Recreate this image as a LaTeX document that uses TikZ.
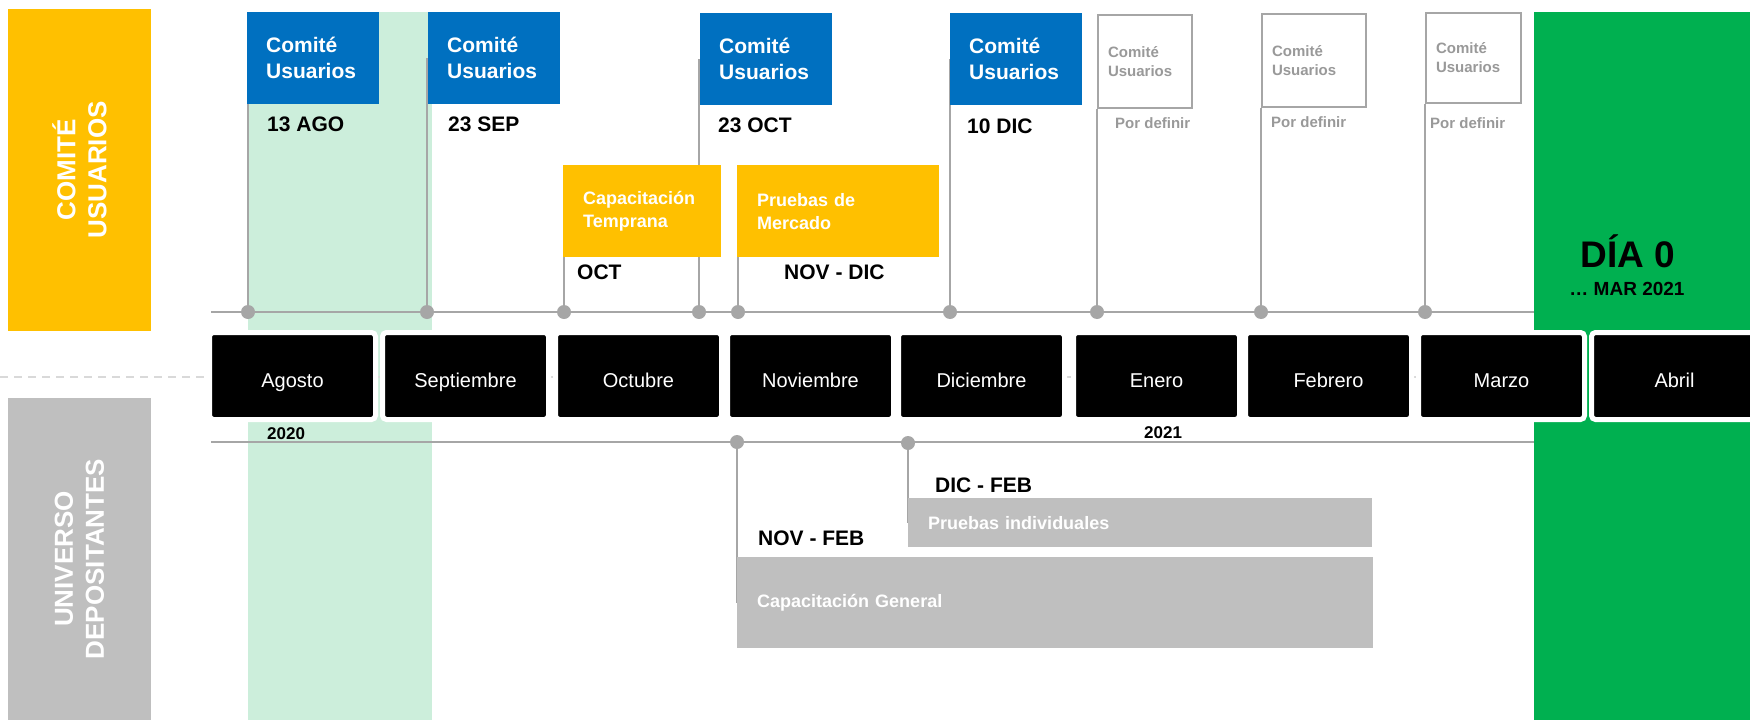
\documentclass[tikz,border=0pt]{standalone}
\usepackage{fontspec}
\setmainfont{Liberation Sans}
\usetikzlibrary{positioning}
\pgfdeclarelayer{background}
\pgfsetlayers{background,main}

\definecolor{amarillo}{HTML}{FFC000}
\definecolor{azul}{HTML}{0070C0}
\definecolor{verde}{HTML}{00B050}
\definecolor{verdeclaro}{HTML}{CCEEDB}
\definecolor{gris}{HTML}{BFBFBF}
\definecolor{grislinea}{HTML}{A6A6A6}
\definecolor{gristexto}{HTML}{999999}
\definecolor{grisguia}{HTML}{D9D9D9}

\tikzset{
  lateral/.style={rotate=90, minimum width=322pt, minimum height=143pt, inner sep=0pt,
    align=center, text=white, font=\bfseries\fontsize{26}{31}\selectfont},
  mes/.style={fill=black, draw=white, line width=5pt, rounded corners=4pt,
    minimum width=166pt, minimum height=87pt, text height=22pt, text depth=0pt,
    text=white, font=\fontsize{20}{24}\selectfont},
  comite/.style={anchor=north west, fill=azul, text=white, minimum height=92pt,
    text width=94pt, inner xsep=19pt, inner ysep=0pt, align=left,
    font=\bfseries\fontsize{21}{26}\selectfont},
  pendiente/.style={anchor=north west, draw=grislinea, line width=2pt, fill=white,
    text=gristexto, minimum height=93pt, inner xsep=10pt, inner ysep=0pt, align=left,
    font=\bfseries\fontsize{15}{19}\selectfont},
  actividad/.style={anchor=north west, fill=amarillo, text=white, minimum height=92pt,
    inner xsep=20pt, inner ysep=0pt, align=left, font=\bfseries\fontsize{18}{23}\selectfont},
  barra/.style={anchor=north west, fill=gris, text=white, inner xsep=20pt, inner ysep=0pt,
    align=left, font=\bfseries\fontsize{18}{22}\selectfont},
  fecha/.style={anchor=base west, inner sep=0pt, font=\bfseries\fontsize{21}{25}\selectfont},
  pordefinir/.style={anchor=base west, inner sep=0pt, text=gristexto,
    font=\bfseries\fontsize{15}{18}\selectfont},
  anio/.style={anchor=base west, inner sep=0pt, font=\bfseries\fontsize{17}{20}\selectfont},
  punto/.style={circle, fill=grislinea, minimum size=14pt, inner sep=0pt},
  eje/.style={draw=grislinea, line width=2pt},
  guia/.style={draw=grisguia, line width=1.5pt, dash pattern=on 8pt off 6pt}
}

\begin{document}
\begin{tikzpicture}[x=1pt,y=-1pt]
\useasboundingbox (0,0) rectangle (1750,720);

% etiquetas laterales
\node[lateral, fill=amarillo] (lblComite) at (79.5,170) {COMITÉ\\USUARIOS};
\node[lateral, fill=gris] (lblUniverso) at (79.5,559) {UNIVERSO\\DEPOSITANTES};

% dia 0
\node[fill=verde, anchor=north west, minimum width=216pt, minimum height=708pt, inner sep=0pt] (dia0) at (1534,12) {};
\node[anchor=base, font=\bfseries\fontsize{37}{40}\selectfont] (dia0txt) at (1628,267) {DÍA 0};
\node[anchor=base, font=\bfseries\fontsize{19}{22}\selectfont] (dia0fecha) at (1627,295) {… MAR 2021};

% meses
\begin{scope}[every node/.style={mes}]
	\node (mAgo) at (292.5,376) {Agosto};
	\node (mSep) at (465.5,376) {Septiembre};
	\node (mOct) at (638.5,376) {Octubre};
	\node (mNov) at (810.5,376) {Noviembre};
	\node (mDic) at (981.5,376) {Diciembre};
	\node (mEne) at (1156.5,376) {Enero};
	\node (mFeb) at (1328.5,376) {Febrero};
	\node (mMar) at (1501.5,376) {Marzo};
	\node (mAbr) at (1674.5,376) {Abril};
\end{scope}
\node[anio] (a2020) at (267,439) {2020};
\node[anio] (a2021) at (1144,438) {2021};

% comites
\begin{scope}[every node/.style={comite}]
	\node (cuAgo) at (247,12) {Comité\\Usuarios};
	\node (cuSep) at (428,12) {Comité\\Usuarios};
	\node (cuOct) at (700,13) {Comité\\Usuarios};
	\node (cuDic) at (950,13) {Comité\\Usuarios};
\end{scope}
\node[pendiente, text width=74pt] (cpEne) at (1097,14) {Comité\\Usuarios};
\node[pendiente, text width=84pt] (cpFeb) at (1261,13) {Comité\\Usuarios};
\node[pendiente, text width=75pt, minimum height=90pt] (cpMar) at (1425,12) {Comité\\Usuarios};

\node[fecha] (fAgo) at (267,131) {13 AGO};
\node[fecha] (fSep) at (448,131) {23 SEP};
\node[fecha] (fOct) at (718,132) {23 OCT};
\node[fecha] (fDic) at (967,133) {10 DIC};
\node[pordefinir] (fEne) at (1115,128) {Por definir};
\node[pordefinir] (fFeb) at (1271,127) {Por definir};
\node[pordefinir] (fMar) at (1430,128) {Por definir};

% actividades
\node[actividad, text width=118pt] (capTemp) at (563,165) {Capacitación\\Temprana};
\node[actividad, text width=162pt] (pruMer) at (737,165) {Pruebas de\\Mercado};
\node[fecha] (fCapTemp) at (577,279) {OCT};
\node[fecha] (fPruMer) at (784,279) {NOV - DIC};

\node[barra, text width=596pt, minimum height=91pt] (capGen) at (737,557) {Capacitación General};
\node[barra, text width=424pt, minimum height=49pt] (pruInd) at (908,498) {Pruebas individuales};
\node[fecha] (fCapGen) at (758,545) {NOV - FEB};
\node[fecha] (fPruInd) at (935,492) {DIC - FEB};

% puntos
\node[punto] (pAgo) at (248,312) {};
\node[punto] (pSep) at (427,312) {};
\node[punto] (pCapTemp) at (564,312) {};
\node[punto] (pOct) at (699,312) {};
\node[punto] (pPruMer) at (738,312) {};
\node[punto] (pDic) at (950,312) {};
\node[punto] (pEne) at (1097,312) {};
\node[punto] (pFeb) at (1261,312) {};
\node[punto] (pMar) at (1425,312) {};
\node[punto] (pCapGen) at (737,442) {};
\node[punto] (pPruInd) at (908,443) {};

\coordinate (guiaIni) at (0,377);
\coordinate (guiaFin) at (1750,377);
\coordinate (ejeSupIni) at (211,312);
\coordinate (ejeSupFin) at (1534,312);
\coordinate (ejeInfIni) at (211,442);
\coordinate (ejeInfFin) at (1534,442);

\begin{pgfonlayer}{background}
	\fill[verdeclaro] (248,12) rectangle (432,720);
	\draw[guia] (guiaIni) -- (guiaFin);
	\draw[eje] (ejeSupIni) -- (ejeSupFin);
	\draw[eje] (ejeInfIni) -- (ejeInfFin);
	\draw[eje] (pAgo) -- (pAgo |- cuAgo.west);
	\draw[eje] (pSep) -- (pSep |- cuSep.west);
	\draw[eje] (pCapTemp) -- (pCapTemp |- capTemp.south);
	\draw[eje] (pOct) -- (pOct |- cuOct.west);
	\draw[eje] (pPruMer) -- (pPruMer |- pruMer.south);
	\draw[eje] (pDic) -- (pDic |- cuDic.west);
	\draw[eje] (pEne) -- (pEne |- cpEne.south);
	\draw[eje] (pFeb) -- (pFeb |- cpFeb.south);
	\draw[eje] (pMar) -- (pMar |- cpMar.south);
	\draw[eje] (pCapGen) -- (pCapGen |- capGen.center);
	\draw[eje] (pPruInd) -- (pPruInd |- pruInd.center);
\end{pgfonlayer}
\end{tikzpicture}
\end{document}
